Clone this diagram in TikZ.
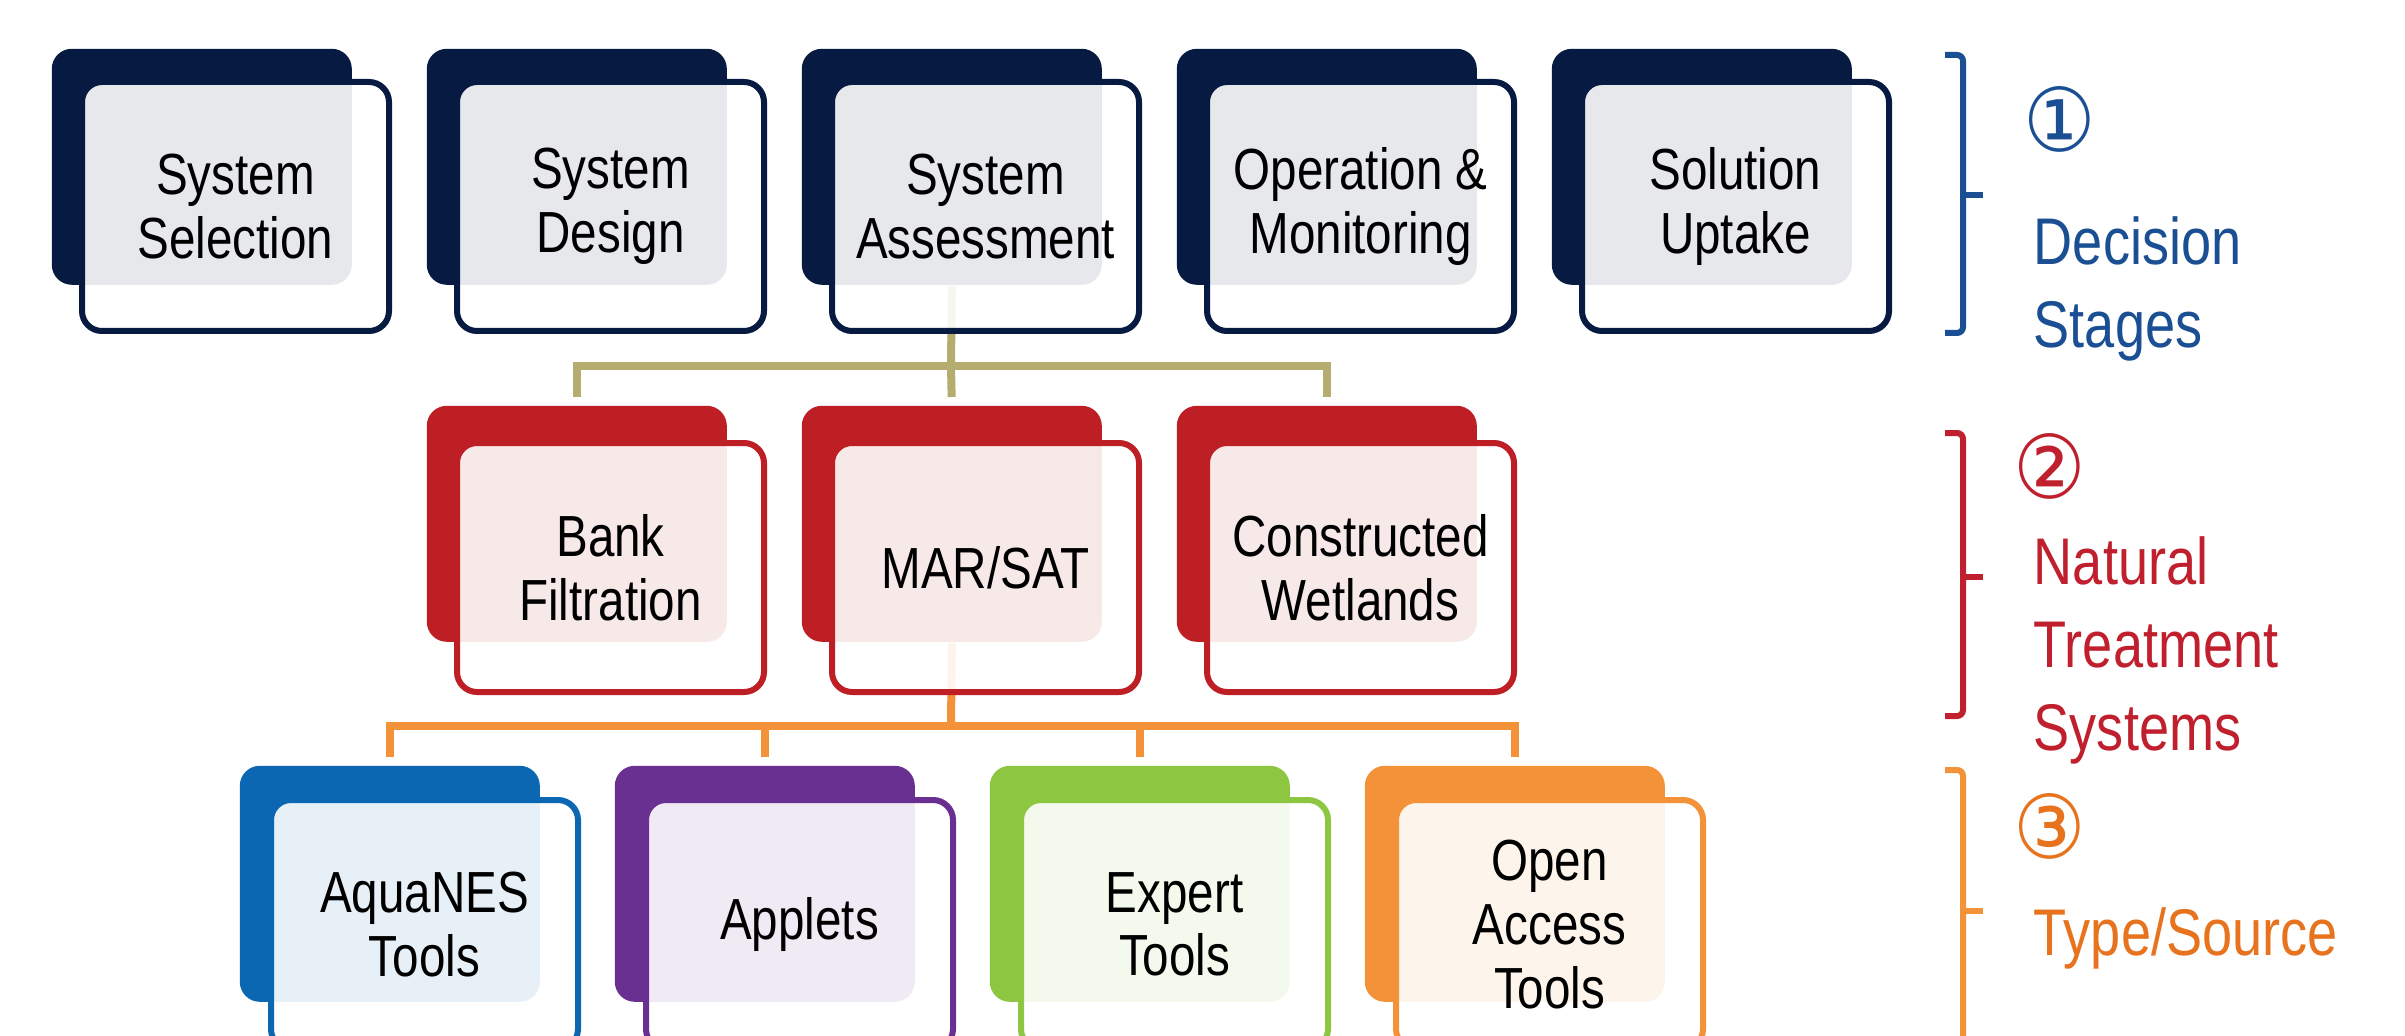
\documentclass[tikz,border=0pt]{standalone}
\usepackage{fontspec}
\setmainfont{Liberation Sans}[FakeStretch=0.82]
\newfontfamily\circfont{DejaVu Sans}[FakeStretch=0.92]
\usetikzlibrary{backgrounds}
\definecolor{navy}{HTML}{071A41}
\definecolor{nred}{HTML}{BD1F25}
\definecolor{tblue}{HTML}{0B67B2}
\definecolor{tpurple}{HTML}{693091}
\definecolor{tgreen}{HTML}{8DC641}
\definecolor{torange}{HTML}{F49239}
\definecolor{olive}{HTML}{B5AC70}
\definecolor{lblue}{HTML}{1B4F93}
\definecolor{lred}{HTML}{C0202D}
\definecolor{lorange}{HTML}{E8731E}
\tikzset{
  backbox/.style={rectangle, rounded corners=5pt, minimum width=75pt, minimum height=59pt, inner sep=0pt, anchor=north west},
  frontbox/.style={rectangle, rounded corners=5pt, minimum width=76.75pt, minimum height=62.25pt, inner sep=0pt, anchor=north west, fill=white, fill opacity=0.9, text opacity=1, line width=1.5pt, align=center, text=black, font=\fontsize{14.5pt}{15.9pt}\selectfont},
  conn/.style={line width=2pt},
  lbl/.style={anchor=base west, align=left, inner sep=0pt, font=\fontsize{16.5pt}{20.75pt}\selectfont},
  circ/.style={inner sep=0pt, font=\circfont\fontsize{22pt}{22pt}\selectfont},
  brk/.style={line width=1.5pt, rounded corners=1.5pt}
}
\begin{document}
\begin{tikzpicture}[x=0.25pt,y=-0.25pt]
\clip (0,0) rectangle (2405,1036);
% top row
\foreach \t [count=\k from 0] in {{System\\Selection},{System\\Design},{System\\Assessment},{Operation \&\\Monitoring},{Solution\\Uptake}}{
  \node[backbox, fill=navy] (tb\k) at ({51+375*\k},48) {};
  \node[frontbox, draw=navy] (tf\k) at ({79+375*\k},79) {\t};
}
% middle row
\foreach \t [count=\k from 1] in {{Bank\\Filtration},{MAR/SAT},{Constructed\\Wetlands}}{
  \node[backbox, fill=nred] (mb\k) at ({51+375*\k},405) {};
  \node[frontbox, draw=nred] (mf\k) at ({79+375*\k},440) {\t};
}
% bottom row
\foreach \t/\c [count=\k from 0] in {{AquaNES\\Tools}/tblue,{Applets}/tpurple,{Expert\\Tools}/tgreen,{Open\\Access\\Tools}/torange}{
  \node[backbox, fill=\c] (bb\k) at ({239+375*\k},765) {};
  \node[frontbox, draw=\c] (bf\k) at ({268+375*\k},797) {\t};
}
% connectors
\coordinate (j1) at (951,366);
\coordinate (j2) at (951,726);
\begin{scope}[on background layer]
  \fill[white] (0,0) rectangle (2405,1036);
  \draw[conn, olive] (tb2.south) -- (j1);
  \draw[conn, olive, shorten <=2pt, shorten >=2pt] (mb1.north) |- (j1) -| (mb3.north);
  \draw[conn, olive, shorten >=2pt] (j1) -- (mb2.north);
  \draw[conn, torange] (mb2.south) -- (j2);
  \draw[conn, torange, shorten <=2pt, shorten >=2pt] (bb0.north) |- (j2) -| (bb3.north);
  \draw[conn, torange, shorten >=2pt] (bb1.north |- j2) -- (bb1.north);
  \draw[conn, torange, shorten >=2pt] (bb2.north |- j2) -- (bb2.north);
\end{scope}
% brackets
\draw[brk, lblue] (1945,55) -- (1963,55) -- (1963,333) -- (1945,333);
\draw[brk, lblue] (1963,195) -- (1983,195);
\draw[brk, lred] (1945,433) -- (1963,433) -- (1963,716) -- (1945,716);
\draw[brk, lred] (1963,577) -- (1983,577);
\draw[brk, torange] (1945,770) -- (1963,770) -- (1963,1060);
\draw[brk, torange] (1963,911) -- (1983,911);
% labels
\node[circ, text=lblue] (c1) at (2060,119) {①};
\node[lbl, text=lblue] (l1) at (2033,348) {Decision\\Stages};
\node[circ, text=lred] (c2) at (2050,466) {②};
\node[lbl, text=lred] (l2) at (2033,750) {Natural\\Treatment\\Systems};
\node[circ, text=lorange] (c3) at (2050,826) {③};
\node[lbl, text=lorange] (l3) at (2033,955) {Type/Source};
\end{tikzpicture}
\end{document}
